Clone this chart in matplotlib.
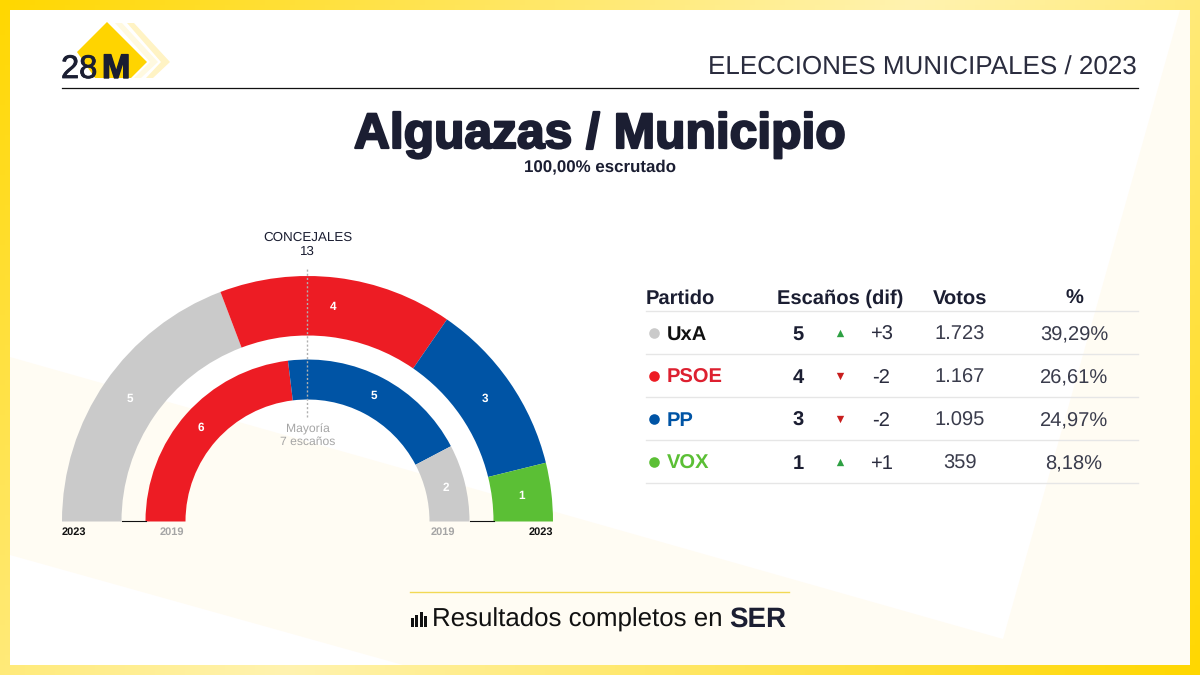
import numpy as np
import matplotlib
matplotlib.use("Agg")
import matplotlib.pyplot as plt
import matplotlib.patheffects as pe
from matplotlib.patches import Wedge, Polygon, Rectangle

# data
parties_2023 = ["UxA", "PSOE", "PP", "VOX"]
seats_2023 = [5, 4, 3, 1]
parties_2019 = ["PSOE", "PP", "UxA"]
seats_2019 = [6, 5, 2]
seat_diff = ["+3", "-2", "-2", "+1"]
votes = ["1.723", "1.167", "1.095", "359"]
percents = ["39,29%", "26,61%", "24,97%", "8,18%"]
total_seats = 13
majority = 7

colors = {"UxA": "#CACACA", "PSOE": "#ED1C24", "PP": "#0054A5", "VOX": "#5BBF35"}
name_colors = {"UxA": "#111111", "PSOE": "#DD2030", "PP": "#0054A5", "VOX": "#5BBF35"}
DARK = "#1B1E32"
CREAM = "#FFFCF3"
plt.rcParams["font.family"] = "Liberation Sans"
plt.rcParams["text.hinting"] = "none"

fig = plt.figure(figsize=(12, 6.75), dpi=100)

# =========================
# background in pixel coords (y goes down)
# =========================
ax = fig.add_axes([0, 0, 1, 1])
ax.axis("off")

# yellow frame gradient, palest along the line (918,0)-(283,675)
yy, xx = np.mgrid[0:675:135j, 0:1200:240j]
t = np.abs((675 * xx + 635 * yy) / 1238625 - 0.5) * 2
strong = np.array([255, 215, 0]) / 255
pale = np.array([255, 243, 176]) / 255
grad = pale + (strong - pale) * t[..., None]
ax.imshow(grad, extent=[0, 1200, 675, 0], aspect="auto", zorder=0)
ax.set_xlim(0, 1200)
ax.set_ylim(675, 0)

ax.add_patch(Rectangle((10, 10), 1180, 655, fc="white", ec="none", zorder=1))
ax.add_patch(Polygon([(1180, 10), (1190, 10), (1190, 665), (1003, 665), (1003, 639)],
                     fc=CREAM, ec="none", zorder=1))
ax.add_patch(Polygon([(10, 357), (1003, 639), (1003, 665), (403, 665), (10, 555)],
                     fc=CREAM, ec="none", zorder=1))

# =========================
# logo
# =========================
ax.add_patch(Polygon([(127, 23), (134, 23), (170, 62), (153, 78), (146, 78), (161, 62)],
                     fc="#FFF3C4", ec="none", zorder=2))
ax.add_patch(Polygon([(115, 23), (122, 23), (158, 62), (141, 78), (134, 78), (150, 62)],
                     fc="#FFF9E0", ec="none", zorder=2))
ax.add_patch(Polygon([(107, 22), (147, 62), (131, 78), (95, 78), (77, 52)],
                     fc="#FFD400", ec="none", zorder=3))
ax.text(61, 78, "28", fontsize=23.5, color=DARK, ha="left", va="baseline", zorder=4,
        path_effects=[pe.withStroke(linewidth=0.6, foreground=DARK)])
ax.text(102, 78, "M", fontsize=24.5, fontweight="bold", color=DARK, ha="left", va="baseline", zorder=4,
        path_effects=[pe.withStroke(linewidth=1.0, foreground=DARK)])

# =========================
# header
# =========================
ax.plot([62, 1138], [88, 88], color="#111111", lw=0.9, zorder=2)
ax.text(1137, 75, "ELECCIONES MUNICIPALES / 2023", fontsize=18.7, color="#2A2C3E",
        ha="right", va="baseline", zorder=4)
ax.text(600, 148, "Alguazas / Municipio", fontsize=35.8, fontweight="bold", color=DARK,
        ha="center", va="baseline", zorder=4,
        path_effects=[pe.withStroke(linewidth=1.6, foreground=DARK)])
ax.text(600, 171, "100,00% escrutado", fontsize=12.2, fontweight="bold", color=DARK,
        ha="center", va="baseline", zorder=4)

# =========================
# table
# =========================
header_y = 304
head = dict(fontsize=14.5, fontweight="bold", color=DARK, va="baseline", zorder=4)
ax.text(646, header_y, "Partido", **head)
ax.text(840, header_y, "Escaños (dif)", ha="center", **head)
ax.text(960, header_y, "Votos", ha="center", **head)
ax.text(1074, header_y, "%", ha="center", **head)
ax.plot([646, 1138], [311, 311], color="#E6E6E6", lw=1, zorder=2)

row_h = 43
for i, p in enumerate(parties_2023):
    y = 333 + i * row_h
    ax.scatter([653.5], [y], s=58, color=colors[p], linewidths=0, zorder=4)
    ax.text(667, y + 7, p, fontsize=14.5, fontweight="bold", color=name_colors[p], va="baseline", zorder=4)
    ax.text(798, y + 7, str(seats_2023[i]), fontsize=14.5, fontweight="bold", color=DARK,
            ha="center", va="baseline", zorder=4)
    up = seat_diff[i].startswith("+")
    ax.scatter([840], [y], marker="^" if up else "v", s=28,
               color="#2EA043" if up else "#C81E1E", linewidths=0, zorder=4)
    ax.text(881, y + 7, seat_diff[i], fontsize=14.5, color="#2A2C3E", ha="center", va="baseline", zorder=4)
    ax.text(960, y + 7, votes[i], fontsize=14.5, color="#3A3C4C", ha="center", va="baseline", zorder=4)
    ax.text(1074, y + 7, percents[i], fontsize=14.5, color="#3A3C4C", ha="center", va="baseline", zorder=4)
    ax.plot([646, 1138], [y + 21, y + 21], color="#E6E6E6", lw=1, zorder=2)

# =========================
# footer
# =========================
ax.plot([410, 789], [592, 592], color="#F2D955", lw=1, zorder=2)
for bx, bh in zip([410.5, 415, 419.5, 424], [9, 12, 15, 11]):
    ax.add_patch(Rectangle((bx, 627 - bh), 3, bh, fc="#111111", ec="none", zorder=4))
ax.text(432, 627, "Resultados completos en", fontsize=18.6, color="#111111", va="baseline", zorder=4)
ax.text(729, 627, "SER", fontsize=20, fontweight="bold", color=DARK, va="baseline", zorder=4)

# =========================
# hemicycle, own axes y goes up, center at the baseline
# =========================
cx, base_y = 307.5, 521.5
ax2 = fig.add_axes([(cx - 260) / 1200, (675 - base_y) / 675, 520 / 1200, 260 / 675])
ax2.set_xlim(-260, 260)
ax2.set_ylim(0, 260)
ax2.axis("off")
ax2.patch.set_alpha(0)


def draw_ring(seats, names, r_out, r_in):
    ang = 180.0
    for n, s in zip(names, seats):
        step = 180.0 * s / total_seats
        ax2.add_patch(Wedge((0, 0), r_out, ang - step, ang, width=r_out - r_in,
                            fc=colors[n], ec="none", zorder=2))
        mid = np.radians(ang - step / 2)
        r = (r_out + r_in) / 2
        ax2.text(r * np.cos(mid), r * np.sin(mid), str(s), color="white", fontsize=8.5,
                 fontweight="bold", ha="center", va="center", zorder=4)
        ang -= step


draw_ring(seats_2023, parties_2023, 245.5, 186)
draw_ring(seats_2019, parties_2019, 162, 122)

# baseline stubs
ax2.plot([-186, -162], [0.5, 0.5], color="#111111", lw=0.8, zorder=3, clip_on=False)
ax2.plot([162, 186], [0.5, 0.5], color="#111111", lw=0.8, zorder=3, clip_on=False)
# majority line
ax2.plot([-0.7, -0.7], [105, 253], color="#B0B0B0", lw=1, ls=(0, (1.5, 1.5)), zorder=3)

ax.text(307.5, 241, "CONCEJALES", fontsize=9.6, color=DARK, ha="center", va="baseline", zorder=4)
ax.text(307.5, 254.5, str(total_seats), fontsize=9.6, color=DARK, ha="center", va="baseline", zorder=4)
ax.text(307.5, 433, "Mayoría", fontsize=8.7, color="#A5A5A5", ha="center", va="baseline", zorder=4)
ax.text(307.5, 445, f"{majority} escaños", fontsize=8.7, color="#A5A5A5", ha="center", va="baseline", zorder=4)
ax.text(62, 535, "2023", fontsize=7.9, fontweight="bold", color="#111111", va="baseline", zorder=4)
ax.text(553, 535, "2023", fontsize=7.9, fontweight="bold", color="#111111", ha="right", va="baseline", zorder=4)
ax.text(160, 535, "2019", fontsize=7.9, fontweight="bold", color="#A5A5A5", va="baseline", zorder=4)
ax.text(455, 535, "2019", fontsize=7.9, fontweight="bold", color="#A5A5A5", ha="right", va="baseline", zorder=4)

fig.savefig("out.png", dpi=100)
